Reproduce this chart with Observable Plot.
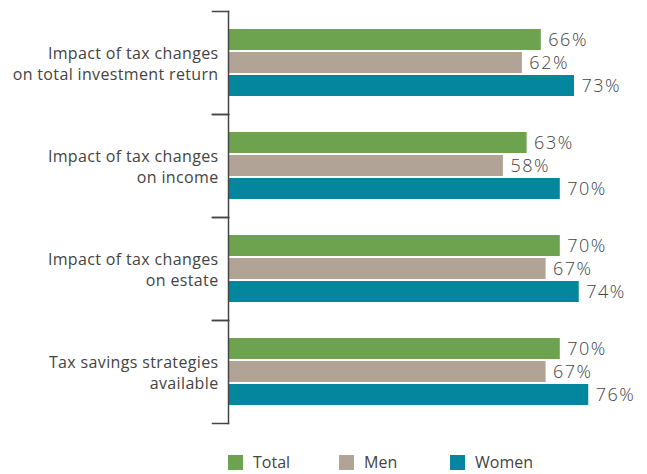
<!DOCTYPE html>
<html><head><meta charset="utf-8">
<script src="https://cdn.jsdelivr.net/npm/d3@7"></script>
<script src="https://cdn.jsdelivr.net/npm/@observablehq/plot@0.6"></script>
<style>
body{margin:0;background:#fff;font-family:"Open Sans",sans-serif;}
#legend{display:flex;margin-left:228px;margin-top:20px;height:20px;align-items:center;}
.item{display:flex;align-items:center;width:111px;font-size:16px;color:#444;}
.sw{width:15px;height:15px;margin-right:10px;}
g[aria-label="fy-axis tick label"] text{letter-spacing:0.35px;}
g.vals text{letter-spacing:1.5px;}
</style></head><body><div id="chart"></div><div id="legend"></div><script>
const categories = ["Impact of tax changes\non total investment return","Impact of tax changes\non income","Impact of tax changes\non estate","Tax savings strategies\navailable"];
const series = ["Total","Men","Women"];
const total = [66,63,70,70];
const men = [62,58,67,67];
const women = [73,70,74,76];
const colors = ["#6da34f","#b1a497","#04869f"];

const values = [total, men, women];
const data = categories.flatMap((c,i)=>series.map((s,j)=>({category:c, series:s, value:values[j][i]})));

const plot = Plot.plot({
  width:647, height:432, marginLeft:228, marginRight:0, marginTop:9, marginBottom:8,
  style:{fontFamily:"Open Sans", fontSize:"15px", color:"#444", background:"#fff"},
  x:{domain:[0,88.4], axis:null},
  y:{domain:series, paddingInner:0.083, paddingOuter:0.7, axis:null},
  fy:{domain:categories, padding:0},
  color:{domain:series, range:colors},
  marks:[
    Plot.barX(data,{x:"value", y:"series", fy:"category", fill:"series"}),
    Plot.text(data,{x:"value", y:"series", fy:"category", text:d=>d.value+"%", textAnchor:"start", dx:7, fontSize:18, fill:"#444", fontWeight:300, className:"vals"}),
    Plot.frame({anchor:"left", stroke:"#444", strokeWidth:1.5}),
    Plot.frame({anchor:"top", insetLeft:-16, insetRight:419, stroke:"#444", strokeWidth:1.5}),
    Plot.frame({anchor:"bottom", insetLeft:-16, insetRight:419, stroke:"#444", strokeWidth:1.5}),
    Plot.axisFy({anchor:"left", tickSize:0, tickPadding:10, lineHeight:1.32, fontSize:16, label:null, fill:"#444"})
  ]
});
document.getElementById("chart").appendChild(plot);

const legend = d3.select("#legend");
series.forEach((s,i)=>{
  const it = legend.append("div").attr("class","item");
  it.append("div").attr("class","sw").style("background",colors[i]);
  it.append("span").text(s);
});
</script></body></html>
